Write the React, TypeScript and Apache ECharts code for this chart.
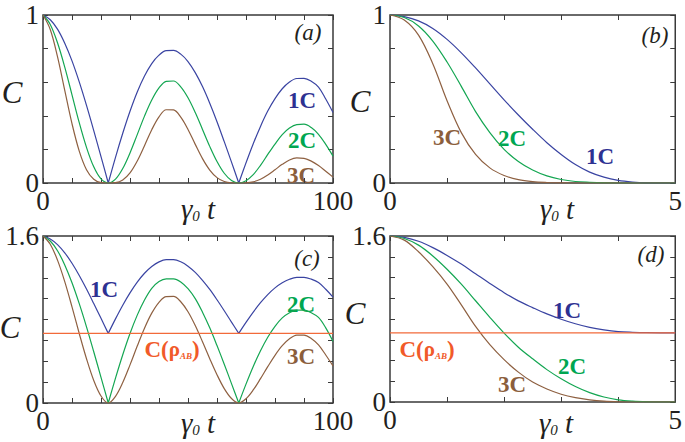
import React, { useEffect, useRef } from "react";
import * as echarts from "echarts";

// ---------- data ----------
const tOsc = [0, 2.5, 5, 7.5, 10, 12.5, 15, 17.5, 20, 22.5, 25, 27.5, 30, 32.5, 35, 37.5, 40, 42.5, 45, 47.5, 50, 52.5, 55, 57.5, 60, 62.5, 65, 67.5, 70, 72.5, 75, 77.5, 80, 82.5, 85, 87.5, 90, 92.5, 95, 97.5, 100];
const tDecay = [0, 0.25, 0.5, 0.75, 1, 1.25, 1.5, 1.75, 2, 2.25, 2.5, 2.75, 3, 3.25, 3.5, 3.75, 4, 4.25, 4.5, 4.75, 5];

// panel (a)
const a1C = [1.0, 0.972, 0.916, 0.832, 0.727, 0.602, 0.462, 0.312, 0.157, 0, 0.153, 0.296, 0.427, 0.542, 0.637, 0.711, 0.761, 0.788, 0.789, 0.767, 0.723, 0.657, 0.574, 0.475, 0.365, 0.246, 0.124, 0, 0.12, 0.234, 0.337, 0.428, 0.502, 0.561, 0.601, 0.622, 0.623, 0.606, 0.571, 0.5, 0.42];
const a2C = [1.0, 0.944, 0.835, 0.69, 0.525, 0.359, 0.212, 0.096, 0.024, 0, 0.023, 0.086, 0.179, 0.288, 0.398, 0.494, 0.566, 0.605, 0.607, 0.572, 0.507, 0.419, 0.319, 0.218, 0.128, 0.058, 0.015, 0, 0.014, 0.05, 0.105, 0.17, 0.232, 0.288, 0.327, 0.348, 0.35, 0.33, 0.29, 0.23, 0.16];
const a3C = [1.0, 0.914, 0.752, 0.551, 0.353, 0.19, 0.079, 0.022, 0.002, 0, 0.002, 0.018, 0.06, 0.131, 0.222, 0.317, 0.394, 0.436, 0.435, 0.392, 0.319, 0.23, 0.145, 0.077, 0.032, 0.009, 0.001, 0, 0.001, 0.007, 0.022, 0.048, 0.079, 0.111, 0.137, 0.149, 0.147, 0.13, 0.104, 0.07, 0.035];

// panel (b)
const b1C = [1.0, 0.99, 0.965, 0.92, 0.855, 0.775, 0.685, 0.59, 0.495, 0.405, 0.32, 0.24, 0.17, 0.11, 0.065, 0.035, 0.016, 0.006, 0.001, 0, 0];
const b2C = [1.0, 0.985, 0.935, 0.845, 0.72, 0.575, 0.425, 0.3, 0.2, 0.128, 0.077, 0.042, 0.021, 0.009, 0.004, 0.001, 0, 0, 0, 0, 0];
const b3C = [1.0, 0.97, 0.88, 0.71, 0.49, 0.3, 0.17, 0.09, 0.045, 0.02, 0.008, 0.003, 0.001, 0, 0, 0, 0, 0, 0, 0, 0];

// panel (c)
const c1C = [1.6, 1.572, 1.518, 1.439, 1.339, 1.222, 1.092, 0.953, 0.811, 0.667, 0.806, 0.937, 1.055, 1.158, 1.243, 1.308, 1.352, 1.373, 1.373, 1.353, 1.311, 1.251, 1.175, 1.088, 0.989, 0.884, 0.775, 0.667, 0.772, 0.871, 0.961, 1.039, 1.103, 1.152, 1.186, 1.203, 1.203, 1.187, 1.155, 1.09, 1.015];
const c2C = [1.6, 1.552, 1.459, 1.323, 1.152, 0.952, 0.73, 0.491, 0.246, 0, 0.238, 0.462, 0.666, 0.842, 0.987, 1.099, 1.165, 1.19, 1.19, 1.16, 1.095, 1.0, 0.87, 0.72, 0.55, 0.372, 0.186, 0, 0.181, 0.35, 0.5, 0.63, 0.735, 0.815, 0.865, 0.89, 0.89, 0.865, 0.82, 0.72, 0.59];
const c3C = [1.6, 1.521, 1.369, 1.163, 0.921, 0.666, 0.424, 0.216, 0.067, 0, 0.064, 0.196, 0.365, 0.546, 0.717, 0.861, 0.965, 1.02, 1.021, 0.97, 0.874, 0.742, 0.587, 0.425, 0.271, 0.138, 0.043, 0, 0.041, 0.125, 0.233, 0.348, 0.457, 0.549, 0.615, 0.65, 0.651, 0.619, 0.557, 0.46, 0.355];

// panel (d)
const d1C = [1.6, 1.586, 1.549, 1.488, 1.413, 1.329, 1.236, 1.143, 1.054, 0.975, 0.91, 0.849, 0.798, 0.754, 0.719, 0.695, 0.679, 0.672, 0.668, 0.667, 0.667];
const d2C = [1.6, 1.576, 1.512, 1.408, 1.28, 1.136, 0.976, 0.816, 0.664, 0.528, 0.416, 0.312, 0.224, 0.149, 0.09, 0.048, 0.021, 0.008, 0.002, 0, 0];
const d3C = [1.6, 1.56, 1.448, 1.304, 1.136, 0.936, 0.728, 0.552, 0.408, 0.288, 0.192, 0.125, 0.075, 0.042, 0.021, 0.008, 0.002, 0, 0, 0, 0];

// concurrence of rho_AB (horizontal reference line in c, d)
const cRhoAB = 0.667;

// cusp indices (sharp V minima) in the oscillating curves
const cuspIdx = [9, 27];

// axis ends shown as tick labels
const xEndsOsc = [0, 100];
const xEndsDecay = [0, 5];
const yEndsTop = [0, 1];
const yEndsBottom = [0, 1.6];

// ---------- styling ----------
const BLUE = "#3a44a2";
const GREEN = "#14a652";
const BROWN = "#8e6041";
const RED = "#f26a3a";
const BLUE_T = "#2e3192";
const GREEN_T = "#00a651";
const BROWN_T = "#8b5e3c";
const RED_T = "#f15a29";
const AX = "#3a3a3a";
const TXT = "#231f20";
const SERIF = "Liberation Serif";

function pairs(xs: number[], ys: number[], cusps: number[] = []) {
  const out: any[] = [];
  xs.forEach((x, i) => {
    out.push([x, ys[i]]);
    if (cusps.includes(i)) {
      out.push([x, "-"]);
      out.push([x, ys[i]]);
    }
  });
  return out;
}

function fmtEnds(ends: number[]) {
  return (v: number) => {
    const e = ends.find((k) => Math.abs(k - v) < 1e-6);
    return e === undefined ? "" : String(e);
  };
}

const tickStyle = { show: true, inside: true, length: 5, lineStyle: { color: AX, width: 1 } };

function xAxes(gridIndex: number, max: number, interval: number, ends: number[]) {
  return [
    {
      type: "value", gridIndex, min: 0, max, interval, position: "bottom",
      axisLine: { show: false, onZero: false }, splitLine: { show: false }, axisTick: tickStyle,
      axisLabel: {
        show: true, margin: 4, fontFamily: SERIF, fontSize: 27, color: TXT,
        showMinLabel: true, showMaxLabel: true, formatter: fmtEnds(ends),
      },
    },
    {
      type: "value", gridIndex, min: 0, max, interval, position: "top",
      axisLine: { show: false, onZero: false }, splitLine: { show: false }, axisTick: tickStyle,
      axisLabel: { show: false },
    },
  ];
}

function yAxes(gridIndex: number, max: number, interval: number, ends: number[]) {
  return [
    {
      type: "value", gridIndex, min: 0, max, interval, position: "left",
      axisLine: { show: false, onZero: false }, splitLine: { show: false }, axisTick: tickStyle,
      axisLabel: {
        show: true, margin: 4, fontFamily: SERIF, fontSize: 27, color: TXT,
        showMinLabel: true, showMaxLabel: true, formatter: fmtEnds(ends),
      },
    },
    {
      type: "value", gridIndex, min: 0, max, interval, position: "right",
      axisLine: { show: false, onZero: false }, splitLine: { show: false }, axisTick: tickStyle,
      axisLabel: { show: false },
    },
  ];
}

function line(name: string, panel: number, data: any[], color: string, z = 2) {
  return {
    type: "line", name, xAxisIndex: panel * 2, yAxisIndex: panel * 2, data,
    showSymbol: false, symbol: "none", smooth: 0.35, connectNulls: false,
    lineStyle: { color, width: 1.2 }, z, silent: true,
  };
}

function label(x: number, y: number, text: string, fill: string, fontSize = 23) {
  return {
    type: "text", x, y, silent: true,
    style: {
      text, fill, fontFamily: SERIF, fontSize, fontWeight: "bold",
      align: "center", verticalAlign: "middle",
    },
  };
}

function italic(x: number, y: number, text: string, fontSize: number) {
  return {
    type: "text", x, y, silent: true,
    style: {
      text, fill: TXT, fontFamily: SERIF, fontSize, fontStyle: "italic",
      align: "center", verticalAlign: "middle",
    },
  };
}

function gammaT(x: number, y: number) {
  return {
    type: "text", x, y, silent: true,
    style: {
      text: "{g|γ}{s|0}{t| t}", fill: TXT, align: "center", verticalAlign: "middle",
      rich: {
        g: { fontFamily: SERIF, fontSize: 29, fontStyle: "italic", fill: TXT },
        s: { fontFamily: SERIF, fontSize: 15, fontStyle: "italic", fill: TXT, verticalAlign: "bottom" },
        t: { fontFamily: SERIF, fontSize: 29, fontStyle: "italic", fill: TXT },
      },
    },
  };
}

function rhoLabel(x: number, y: number) {
  return {
    type: "text", x, y, silent: true,
    style: {
      text: "{c|C(}{r|ρ}{s|AB}{c|)}", fill: RED_T, align: "center", verticalAlign: "middle",
      rich: {
        c: { fontFamily: SERIF, fontSize: 23, fontWeight: "bold", fill: RED_T },
        r: { fontFamily: SERIF, fontSize: 21, fontWeight: "bold", fill: RED_T },
        s: { fontFamily: SERIF, fontSize: 9, fontWeight: "bold", fontStyle: "italic", fill: RED_T, verticalAlign: "bottom" },
      },
    },
  };
}

export default function App() {
  const ref = useRef<HTMLDivElement>(null);
  useEffect(() => {
    if (!ref.current) return;
    const chart = echarts.init(ref.current, null, { renderer: "svg" });
    const gridBase = { show: true, borderColor: AX, borderWidth: 1.5, backgroundColor: "transparent", containLabel: false };
    const option: any = {
      animation: false,
      backgroundColor: "#ffffff",
      grid: [
        { ...gridBase, left: 43, top: 15, width: 290, height: 168 },
        { ...gridBase, left: 390, top: 15, width: 289, height: 168 },
        { ...gridBase, left: 43, top: 236, width: 290, height: 167 },
        { ...gridBase, left: 390, top: 236, width: 289, height: 166 },
      ],
      xAxis: [
        ...xAxes(0, 100, 10, xEndsOsc),
        ...xAxes(1, 5, 1, xEndsDecay),
        ...xAxes(2, 100, 10, xEndsOsc),
        ...xAxes(3, 5, 1, xEndsDecay),
      ],
      yAxis: [
        ...yAxes(0, 1, 0.2, yEndsTop),
        ...yAxes(1, 1, 0.2, yEndsTop),
        ...yAxes(2, 1.6, 0.2, yEndsBottom),
        ...yAxes(3, 1.6, 0.2, yEndsBottom),
      ],
      series: [
        line("a1C", 0, pairs(tOsc, a1C, cuspIdx), BLUE),
        line("a2C", 0, pairs(tOsc, a2C), GREEN),
        line("a3C", 0, pairs(tOsc, a3C), BROWN),
        line("b1C", 1, pairs(tDecay, b1C), BLUE),
        line("b2C", 1, pairs(tDecay, b2C), GREEN),
        line("b3C", 1, pairs(tDecay, b3C), BROWN),
        line("c1C", 2, pairs(tOsc, c1C, cuspIdx), BLUE),
        line("c2C", 2, pairs(tOsc, c2C, cuspIdx), GREEN),
        line("c3C", 2, pairs(tOsc, c3C), BROWN),
        line("cRho", 2, [[tOsc[0], cRhoAB], [tOsc[tOsc.length - 1], cRhoAB]], RED, 5),
        line("d1C", 3, pairs(tDecay, d1C), BLUE),
        line("d2C", 3, pairs(tDecay, d2C), GREEN),
        line("d3C", 3, pairs(tDecay, d3C), BROWN),
        line("dRho", 3, [[tDecay[0], cRhoAB], [tDecay[tDecay.length - 1], cRhoAB]], RED, 5),
      ],
      graphic: [
        // axis titles
        italic(12, 92, "C", 31),
        italic(360, 101, "C", 31),
        italic(10, 327, "C", 31),
        italic(355, 313, "C", 31),
        gammaT(198, 209),
        gammaT(557, 209),
        gammaT(198, 423),
        gammaT(556, 423),
        // panel tags
        italic(308, 32, "(a)", 23),
        italic(655, 35, "(b)", 23),
        italic(307, 258, "(c)", 23),
        italic(651, 254, "(d)", 23),
        // curve labels (a)
        label(302, 100, "1C", BLUE_T),
        label(302, 140, "2C", GREEN_T),
        label(301, 175, "3C", BROWN_T),
        // (b)
        label(447, 137, "3C", BROWN_T),
        label(512, 138, "2C", GREEN_T),
        label(600, 156, "1C", BLUE_T),
        // (c)
        label(104, 289, "1C", BLUE_T),
        label(301, 304, "2C", GREEN_T),
        label(301, 356, "3C", BROWN_T),
        rhoLabel(172, 349),
        // (d)
        label(567, 310, "1C", BLUE_T),
        label(572, 366, "2C", GREEN_T),
        label(512, 384, "3C", BROWN_T),
        rhoLabel(427, 349),
      ],
    };
    chart.setOption(option);
    return () => chart.dispose();
  }, []);
  return (
    <div
      ref={ref}
      style={{ position: "fixed", left: 0, top: 0, width: 685, height: 442, background: "#fff" }}
    />
  );
}
